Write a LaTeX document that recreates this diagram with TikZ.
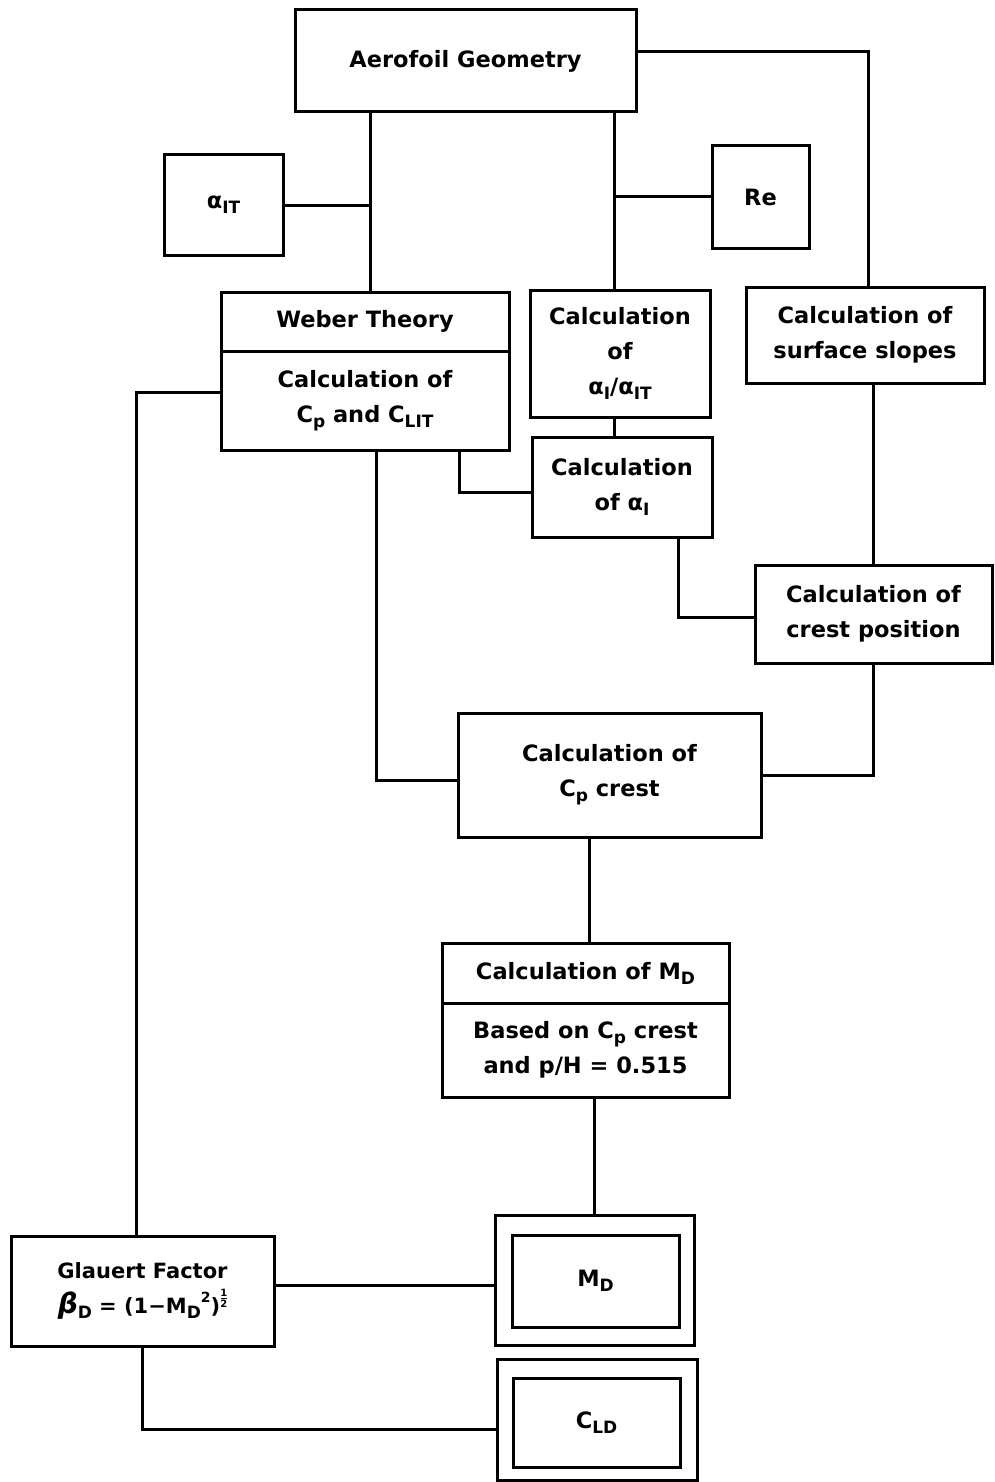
\documentclass[tikz,border=0pt]{standalone}
\usepackage{fontspec}
\setmainfont{DejaVu Sans}
\newcommand{\subx}[1]{\raisebox{-0.4ex}{\fontsize{17}{17}\selectfont #1}}
\newcommand{\supx}[1]{\raisebox{1.0ex}{\fontsize{14}{14}\selectfont #1}}
\newcommand{\halfx}{\raisebox{0.5ex}{\fontsize{10}{10}\selectfont\shortstack{1\\[-1.5pt]\rule{6pt}{1.2pt}\\[-1.5pt]2}}}
\begin{document}
\begin{tikzpicture}[x=1pt,y=-1pt,
  box/.style={draw, line width=3pt, inner sep=0pt, align=center,
    font=\fontsize{22.5}{35}\selectfont\bfseries},
  wire/.style={line width=3pt}]
\useasboundingbox (0,0) rectangle (994,1482);

\node[box, minimum width=341pt, minimum height=102pt] (aero) at (465.5,61) {Aerofoil Geometry};
\node[box, minimum width=119pt, minimum height=100pt] (ait) at (223.5,205) {α\subx{IT}};
\node[box, minimum width=97pt, minimum height=102pt] (re) at (760.5,197) {Re};
\node[box, minimum width=288pt, minimum height=59pt] (wtop) at (365,321.5) {Weber Theory};
\node[box, minimum width=288pt, minimum height=99pt] (wbot) at (365,400.5) {Calculation of\\C\subx{p} and C\subx{LIT}};
\node[box, minimum width=180pt, minimum height=127pt] (ratio) at (620,353.5) {Calculation\\of\\α\subx{I}/α\subx{IT}};
\node[box, minimum width=238pt, minimum height=96pt] (slopes) at (865,335) {Calculation of\\surface slopes};
\node[box, minimum width=180pt, minimum height=100pt] (ai) at (622,487) {Calculation\\of α\subx{I}};
\node[box, minimum width=237pt, minimum height=98pt] (crestpos) at (873.5,614) {Calculation of\\crest position};
\node[box, minimum width=303pt, minimum height=124pt] (cpcrest) at (609.5,775) {Calculation of\\C\subx{p} crest};
\node[box, minimum width=287pt, minimum height=60pt] (mdtop) at (585.5,973) {Calculation of M\subx{D}};
\node[box, minimum width=287pt, minimum height=94pt] (mdbot) at (585.5,1050) {Based on C\subx{p} crest\\and p/H = 0.515};
\node[box, minimum width=263pt, minimum height=110pt, font=\fontsize{21}{35}\selectfont\bfseries] (glauert) at (142.5,1291) {Glauert Factor\\{\fontsize{28}{28}\selectfont\itshape β}\subx{D} = (1−M\subx{D}\supx{2})\halfx};
\node[box, minimum width=199pt, minimum height=130pt] (mdouter) at (594.5,1280) {};
\node[box, minimum width=167pt, minimum height=92pt] (mdinner) at (595.5,1281) {M\subx{D}};
\node[box, minimum width=200pt, minimum height=121pt] (cldouter) at (597,1419.5) {};
\node[box, minimum width=167pt, minimum height=89pt] (cldinner) at (596.5,1422.5) {C\subx{LD}};

\coordinate (j1) at ([xshift=5pt]wtop.north);
\coordinate (j2) at ([xshift=-6pt]ratio.north);
\coordinate (j3) at ([xshift=-51pt]wbot.south east);
\coordinate (j4) at ([xshift=11pt]wbot.south);
\coordinate (j5) at ([xshift=56pt]ai.south);
\coordinate (j6) at ([xshift=4pt]mdtop.north);
\coordinate (j7) at ([yshift=6pt]glauert.east);
\coordinate (j8) at ([yshift=9pt]aero.east);
\coordinate (j9) at ([xshift=3pt]slopes.north);

\draw[wire] (j8) -| (j9);
\draw[wire] (j1) -- (j1 |- aero.south);
\draw[wire] (ait.east) -- (ait.east -| j1);
\draw[wire] (j2) -- (j2 |- aero.south);
\draw[wire] (re.west) -- (re.west -| j2);
\draw[wire] (j2 |- ratio.south) -- (j2 |- ai.north);
\draw[wire] (j3) |- ([yshift=-5pt]ai.west);
\draw[wire] (j4) |- ([yshift=-5pt]cpcrest.west);
\draw[wire] (j5) |- ([yshift=-3pt]crestpos.west);
\draw[wire] (crestpos.north) -- (crestpos.north |- slopes.south);
\draw[wire] (crestpos.south) |- (cpcrest.east);
\draw[wire] ([yshift=8pt]wbot.west) -| ([xshift=-6pt]glauert.north);
\draw[wire] (j6) -- (j6 |- cpcrest.south);
\draw[wire] (mdouter.north) -- (mdouter.north |- mdbot.south);
\draw[wire] (j7) -- (j7 -| mdouter.west);
\draw[wire] (glauert.south) |- ([yshift=-10pt]cldouter.west);
\end{tikzpicture}
\end{document}
